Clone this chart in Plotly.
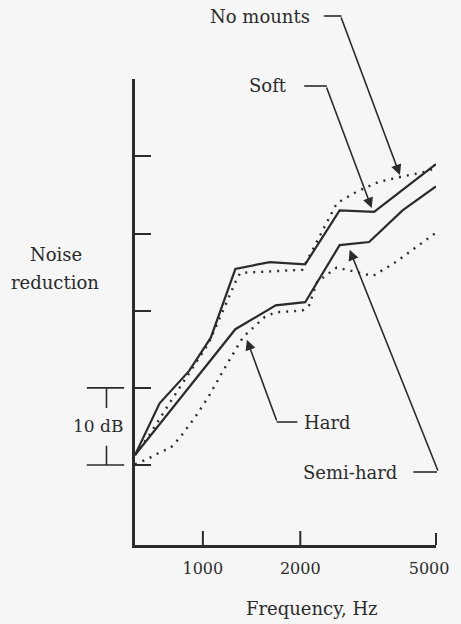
import numpy as np
import plotly.graph_objects as go

# Noise reduction (dB, relative) versus frequency for four mounting types
soft_hz = [617, 735, 907, 1058, 1260, 1609, 2071, 2646, 3381, 5250]
soft_db = [1.3, 8.0, 12.2, 16.5, 25.4, 26.3, 26.0, 33.0, 32.8, 39.0]

no_mounts_hz = [617, 676, 794, 907, 1043, 1260, 1305, 2028, 2591, 2980, 3500, 4140, 4762, 5250]
no_mounts_db = [1.3, 3.6, 8.2, 11.9, 15.8, 23.7, 24.9, 25.3, 33.9, 35.4, 36.7, 37.4, 37.9, 38.5]

semi_hard_hz = [617, 1260, 1679, 2071, 2646, 3264, 4140, 5250]
semi_hard_db = [1.3, 17.6, 20.7, 21.1, 28.5, 28.9, 33.0, 36.1]

hard_hz = [617, 676, 740, 794, 851, 946, 1043, 1158, 1332, 1554, 1679, 2028,
           2130, 2252, 2591, 2980, 3357, 3943, 4632, 5250]
hard_db = [0.1, 0.8, 1.7, 2.2, 3.6, 6.2, 8.9, 12.3, 16.6, 19.2, 19.8, 20.0,
           20.7, 23.7, 25.6, 25.0, 24.5, 26.3, 28.5, 30.1]

freq_ticks = [1000, 2000, 5000]
freq_tick_text = ["1000", "2000", "5000"]
db_ticks = [0, 10, 20, 30, 40, 50]

# figure geometry (pixels)
W, H = 461, 624
L, R, T, B = 135, 441, 79, 545
X_LO, X_HI = 2.79027, 3.72036          # log10(Hz)
Y_LO, Y_HI = -10.36, 50.02             # dB

INK = "#2b2b2b"
BG = "#f6f6f6"
FONT = "DejaVu Serif"


def px_x(hz):
    return L + (np.log10(hz) - X_LO) / (X_HI - X_LO) * (R - L)


def px_y(db):
    return B - (db - Y_LO) / (Y_HI - Y_LO) * (B - T)


def paper_x(px):
    return (px - L) / (R - L)


def paper_y(py):
    return (B - py) / (B - T)


def on_curve(hz, xs, ys):
    return float(np.interp(np.log10(hz), np.log10(xs), ys))


fig = go.Figure()

series = [
    ("Soft", soft_hz, soft_db, "solid"),
    ("No mounts", no_mounts_hz, no_mounts_db, "2px,6px"),
    ("Semi-hard", semi_hard_hz, semi_hard_db, "solid"),
    ("Hard", hard_hz, hard_db, "2px,6px"),
]
for name, xs, ys, dash in series:
    fig.add_trace(go.Scatter(
        x=xs, y=ys, name=name, mode="lines",
        line=dict(color=INK, width=2.2 if dash == "solid" else 2.4, dash=dash),
        hoverinfo="skip", showlegend=False,
    ))

shapes = []
annotations = []

# tick marks on the frequency axis (drawn inward) and the right end stub
for hz in [1000, 2000]:
    xp = paper_x(px_x(hz))
    shapes.append(dict(type="line", xref="paper", yref="paper",
                       x0=xp, x1=xp, y0=0, y1=paper_y(531),
                       line=dict(color=INK, width=2)))
shapes.append(dict(type="line", xref="paper", yref="paper",
                   x0=1, x1=1, y0=0, y1=paper_y(533),
                   line=dict(color=INK, width=2)))

# 10 dB scale bracket
bx, bl, br = paper_x(106), paper_x(86), paper_x(124)
for yv in [0, 10]:
    shapes.append(dict(type="line", xref="paper", yref="y",
                       x0=bl, x1=br, y0=yv, y1=yv,
                       line=dict(color=INK, width=1.6)))
shapes.append(dict(type="line", xref="paper", yref="y", x0=bx, x1=bx,
                   y0=10, y1=7.4, line=dict(color=INK, width=1.6)))
shapes.append(dict(type="line", xref="paper", yref="y", x0=bx, x1=bx,
                   y0=0, y1=2.5, line=dict(color=INK, width=1.6)))
annotations.append(dict(xref="paper", yref="y", x=paper_x(97), y=5.0,
                        xanchor="center", yanchor="middle",
                        text="10 dB", showarrow=False,
                        font=dict(family=FONT, size=17, color=INK)))

# curve labels with bent leader lines
labels = [
    # text, series, tip freq, bend point, leader end, text anchor x, text y, side, standoff
    ("No mounts", no_mounts_hz, no_mounts_db, 4083, (345, 16), 327, 315, 16, "right", 2),
    ("Soft", soft_hz, soft_db, 3357, (330, 86), 307, 292, 86, "right", 4),
    ("Hard", hard_hz, hard_db, 1351, (279, 422), 300, 305, 422, "left", 5),
    ("Semi-hard", semi_hard_hz, semi_hard_db, 2797, (442, 472), 418, 403, 472, "right", 6),
]
for text, xs, ys, tip_hz, (bxp, byp), lead_end, tx, ty, side, stand in labels:
    tip_db = on_curve(tip_hz, xs, ys)
    tx_px, ty_px = px_x(tip_hz), px_y(tip_db)
    annotations.append(dict(
        x=np.log10(tip_hz), y=tip_db, xref="x", yref="y",
        ax=bxp - tx_px, ay=byp - ty_px, axref="pixel", ayref="pixel",
        text="", showarrow=True, arrowhead=2, arrowsize=1.3,
        arrowwidth=1.6, arrowcolor=INK, standoff=stand,
    ))
    shapes.append(dict(type="line", xref="paper", yref="paper",
                       x0=paper_x(lead_end), x1=paper_x(bxp),
                       y0=paper_y(byp), y1=paper_y(byp),
                       line=dict(color=INK, width=1.6)))
    annotations.append(dict(
        xref="paper", yref="paper", x=paper_x(tx), y=paper_y(ty),
        xanchor=side, yanchor="middle", text=text, showarrow=False,
        font=dict(family=FONT, size=18, color=INK),
    ))

# axis titles
for txt, cx, cy in [("Noise", 55, 254), ("reduction", 54, 282), ("Frequency, Hz", 315, 608)]:
    annotations.append(dict(xref="paper", yref="paper", x=paper_x(cx), y=paper_y(cy),
                            xanchor="center", yanchor="middle",
                            text=txt, showarrow=False,
                            font=dict(family=FONT, size=18, color=INK)))

fig.update_layout(
    width=W, height=H,
    margin=dict(l=L, r=W - R, t=T, b=H - B),
    paper_bgcolor=BG, plot_bgcolor=BG,
    shapes=shapes, annotations=annotations,
    xaxis=dict(type="log", range=[X_LO, X_HI], showgrid=False, zeroline=False,
               showline=True, linecolor=INK, linewidth=2.5,
               ticks="", tickvals=freq_ticks, ticktext=freq_tick_text,
               ticklabelstandoff=7,
               tickfont=dict(family=FONT, size=16, color=INK)),
    yaxis=dict(range=[Y_LO, Y_HI], showgrid=False, zeroline=False,
               showline=True, linecolor=INK, linewidth=2.5,
               ticks="inside", ticklen=16, tickwidth=2, tickcolor=INK,
               tickvals=db_ticks, showticklabels=False),
)

fig.write_html("out.html")
